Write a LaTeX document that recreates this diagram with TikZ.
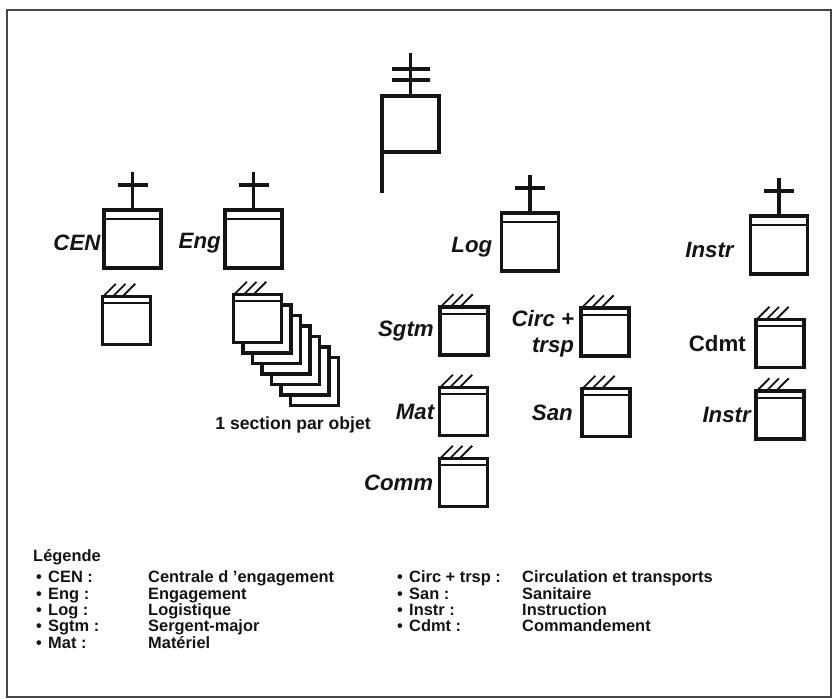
\documentclass[tikz,border=0pt]{standalone}
\usepackage{fontspec}
\setmainfont{Liberation Sans}
\usepackage{tikz}
\usetikzlibrary{positioning, calc}
\definecolor{myink}{RGB}{20,20,20}
\definecolor{myframe}{RGB}{70,70,70}
\tikzset{
  unitbox/.style={rectangle, draw=myink, fill=white, line width=2.6pt,
    minimum width=1.71cm, minimum height=1.74cm, inner sep=0pt, outer sep=0pt},
  secbox/.style={rectangle, draw=myink, fill=white, line width=2.6pt,
    minimum width=1.44cm, minimum height=1.44cm, inner sep=0pt, outer sep=0pt},
  unitlabel/.style={font=\fontsize{19}{22}\selectfont\bfseries\itshape,
    text=myink, inner sep=0pt, align=right},
  band/.style={line width=1.6pt, color=myink},
  stem/.style={line width=2.6pt, color=myink},
  hatch/.style={line width=1.6pt, color=myink},
  legtext/.style={font=\fontsize{14}{16}\selectfont\bfseries, text=myink,
    anchor=base west, inner sep=0pt},
  borderline/.style={line width=1.2pt, color=myframe}
}

\begin{document}
\begin{tikzpicture}[x=0.03cm, y=-0.03cm]
  \useasboundingbox (0,0) rectangle (834,699);
  % Frame
  \draw[borderline] (7,10) rectangle (831,697);

  % Command post with flag staff
  \node[unitbox, minimum height=1.68cm] (hq) at (410.5,124) {};
  \draw[stem] (hq.north west) -- (hq.south west) -- ++(0,-1.23cm);
  \draw[stem] (hq.north) -- ++(0,1.29cm);
  \foreach \h in {0.48,0.81}
    \draw[stem] ([yshift=\h cm]hq.north) ++(-0.57cm,0) -- ++(1.14cm,0);

  % Units (cross on top)
  \node[unitbox] (cen) at (132.5,239) {};
  \node[unitbox] (eng) at (253.5,239) {};
  \node[unitbox] (log) at (530,242) {};
  \node[unitbox] (instr) at (779,245) {};
  \foreach \u in {cen,eng,log,instr}{
    \draw[band] ([yshift=-0.27cm]\u.north west) -- ([yshift=-0.27cm]\u.north east);
    \draw[stem] (\u.north) -- ++(0,1.14cm);
    \draw[stem] ([yshift=0.75cm]\u.north) ++(-0.45cm,0) -- ++(0.9cm,0);
  }

  % Sections
  \node[secbox] (censec) at (126.5,320.5) {};
  \foreach \k in {6,5,...,0}
    \node[secbox] (engsec\k) at ({257.5+9.5*\k},{318.5+10.5*\k}) {};
  \node[secbox] (sgtm) at (464,331) {};
  \node[secbox] (circ) at (605,332) {};
  \node[secbox] (mat) at (463.5,411.5) {};
  \node[secbox] (san) at (606,412.5) {};
  \node[secbox] (comm) at (463.5,482.5) {};
  \node[secbox] (cdmt) at (780,343.5) {};
  \node[secbox] (instrsec) at (780,415) {};
  \foreach \s in {censec,engsec0,sgtm,circ,mat,san,comm,cdmt,instrsec}{
    \draw[band] ([yshift=-0.2cm]\s.north west) -- ([yshift=-0.2cm]\s.north east);
    \foreach \dx in {0.02,0.31,0.6}
      \draw[hatch] ([xshift=\dx cm]\s.north west) -- ++(0.38cm,0.38cm);
  }

  % Labels
  \node[unitlabel, left=0.1cm of cen, yshift=-0.12cm] (cenlbl) {CEN};
  \node[unitlabel, left=0.12cm of eng, yshift=-0.12cm] (englbl) {Eng};
  \node[unitlabel, left=0.27cm of log, yshift=-0.15cm] (loglbl) {Log};
  \node[unitlabel, left=0.5cm of instr, yshift=-0.15cm] (instrlbl) {Instr};
  \node[unitlabel, left=0.18cm of sgtm] (sgtmlbl) {Sgtm};
  \node[unitlabel, left=0.2cm of circ, yshift=-0.05cm] (circlbl) {Circ +\\trsp};
  \node[unitlabel, left=0.15cm of mat] (matlbl) {Mat};
  \node[unitlabel, left=0.27cm of san] (sanlbl) {San};
  \node[unitlabel, left=0.18cm of comm] (commlbl) {Comm};
  \node[unitlabel, left=0.3cm of cdmt, font=\fontsize{19}{22}\selectfont\bfseries] (cdmtlbl) {Cdmt};
  \node[unitlabel, left=0.15cm of instrsec] (instrseclbl) {Instr};
  \node[font=\fontsize{15}{17}\selectfont\bfseries, text=myink] (engnote) at (293,425) {1 section par objet};

  % Legend
  \node[legtext] (legtitle) at (33,561) {Légende};
  \foreach \y/\ab/\txt [count=\i] in {582/CEN :/Centrale d 'engagement,
      599/Eng :/Engagement, 615/Log :/Logistique,
      631/Sgtm :/Sergent-major, 648/Mat :/Matériel}{
    \node[legtext] (lbul\i) at (36,\y) {\textbullet};
    \node[legtext] (lab\i) at (48,\y) {\ab};
    \node[legtext] (ltxt\i) at (148,\y) {\txt};
  }
  \foreach \y/\ab/\txt [count=\i] in {582/Circ + trsp :/Circulation et transports,
      599/San :/Sanitaire, 615/Instr :/Instruction, 631/Cdmt :/Commandement}{
    \node[legtext] (rbul\i) at (397,\y) {\textbullet};
    \node[legtext] (rab\i) at (409,\y) {\ab};
    \node[legtext] (rtxt\i) at (522,\y) {\txt};
  }
\end{tikzpicture}
\end{document}
